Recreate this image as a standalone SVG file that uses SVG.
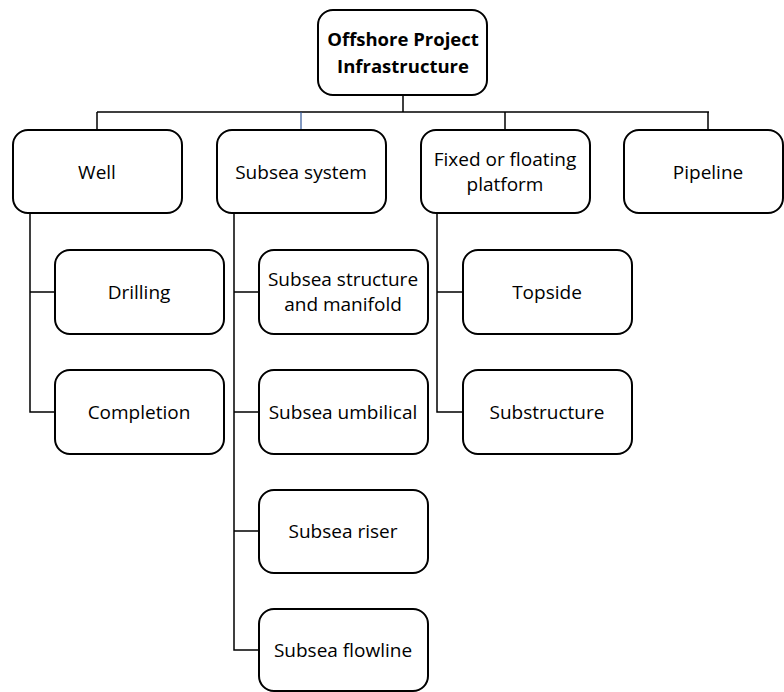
<svg xmlns="http://www.w3.org/2000/svg" width="784" height="692" viewBox="0 0 784 692">
<style>
.box{fill:#fff;stroke:#000;stroke-width:2}
.t{font-family:"Open Sans","Noto Sans",sans-serif;font-size:19px;fill:#000;text-anchor:middle}
.b{font-weight:bold;font-size:18.5px}
.c{fill:none;stroke:#000;stroke-width:1.5}
.blue{fill:none;stroke:#2f5597;stroke-width:1.2}
</style>
<rect width="784" height="692" fill="#fff"/>
<g id="connectors">
<path class="c" d="M403 95V112M97 112H709M97 112V130M505 112V130M708 112V130"/>
<path class="blue" d="M301 112V130"/>
<path class="c" d="M30 213V412H55M30 292H55"/>
<path class="c" d="M234 213V650H259M234 292H259M234 412H259M234 531H259"/>
<path class="c" d="M437 213V412H463M437 292H463"/>
</g>
<g id="root"><rect class="box" x="318" y="10" width="169" height="85" rx="15"/>
<text class="t b" x="403" y="46">Offshore Project</text><text class="t b" x="403" y="73">Infrastructure</text></g>
<g id="well"><rect class="box" x="13" y="130" width="169" height="83" rx="15"/><text class="t" x="97" y="179">Well</text></g>
<g id="subsea"><rect class="box" x="217" y="130" width="169" height="83" rx="15"/><text class="t" x="301" y="179">Subsea system</text></g>
<g id="platform"><rect class="box" x="421" y="130" width="169" height="83" rx="15"/><text class="t" x="505" y="166">Fixed or floating</text><text class="t" x="505" y="191">platform</text></g>
<g id="pipeline"><rect class="box" x="624" y="130" width="159" height="83" rx="15"/><text class="t" x="708" y="179">Pipeline</text></g>
<g id="drilling"><rect class="box" x="55" y="250" width="169" height="84" rx="15"/><text class="t" x="139" y="299">Drilling</text></g>
<g id="completion"><rect class="box" x="55" y="370" width="169" height="84" rx="15"/><text class="t" x="139" y="419">Completion</text></g>
<g id="structure"><rect class="box" x="259" y="250" width="169" height="84" rx="15"/><text class="t" x="343" y="286">Subsea structure</text><text class="t" x="343" y="311">and manifold</text></g>
<g id="umbilical"><rect class="box" x="259" y="370" width="169" height="84" rx="15"/><text class="t" x="343" y="419">Subsea umbilical</text></g>
<g id="riser"><rect class="box" x="259" y="490" width="169" height="83" rx="15"/><text class="t" x="343" y="538">Subsea riser</text></g>
<g id="flowline"><rect class="box" x="259" y="609" width="169" height="82" rx="15"/><text class="t" x="343" y="657">Subsea flowline</text></g>
<g id="topside"><rect class="box" x="463" y="250" width="169" height="84" rx="15"/><text class="t" x="547" y="299">Topside</text></g>
<g id="substructure"><rect class="box" x="463" y="370" width="169" height="84" rx="15"/><text class="t" x="547" y="419">Substructure</text></g>
</svg>
